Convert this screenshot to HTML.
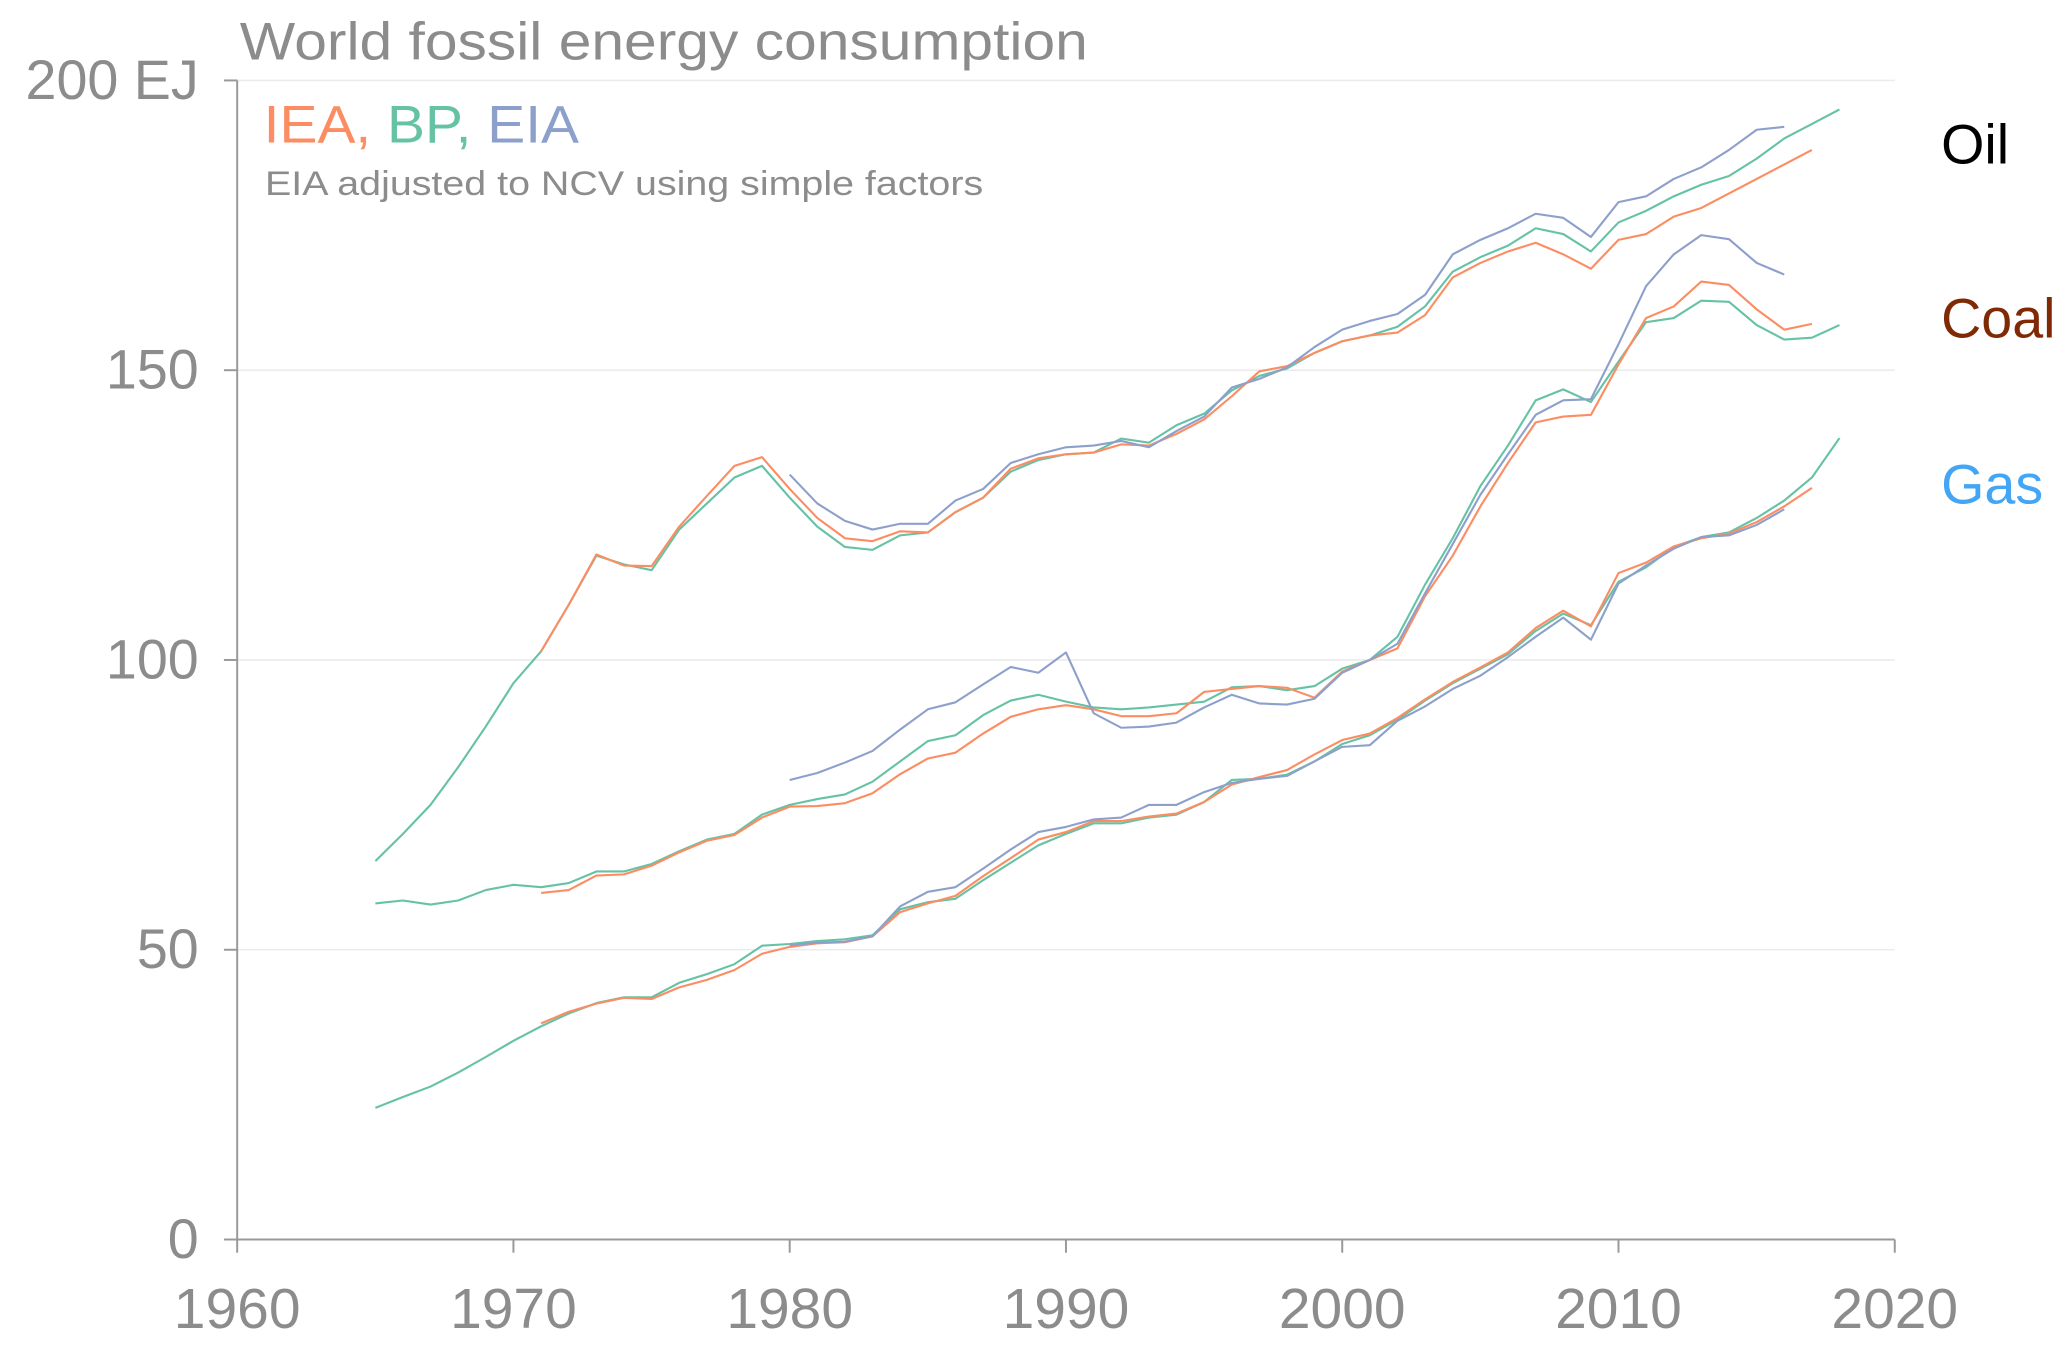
<!DOCTYPE html>
<html><head><meta charset="utf-8"><style>
html,body{margin:0;padding:0;background:#fff;}
svg{display:block;font-family:"Liberation Sans",sans-serif;}
</style></head><body>
<svg id="chart" width="2067" height="1345" viewBox="0 0 1560 1020" preserveAspectRatio="none" xmlns="http://www.w3.org/2000/svg">
<text x="181" y="45" font-size="40" fill="#8c8c8c" textLength="640" lengthAdjust="spacingAndGlyphs">World fossil energy consumption</text>
<text x="199" y="108" font-size="40" textLength="238" lengthAdjust="spacingAndGlyphs"><tspan fill="#fc8d62">IEA, </tspan><tspan fill="#66c2a5">BP, </tspan><tspan fill="#8da0cb">EIA</tspan></text>
<text x="200" y="148" font-size="26" fill="#8c8c8c" textLength="542" lengthAdjust="spacingAndGlyphs">EIA adjusted to NCV using simple factors</text>
<g id="grid"></g><g id="axes"></g><g id="lines"></g>
<text x="1465" y="124" font-size="42" fill="#000">Oil</text>
<text x="1465" y="256" font-size="42" fill="#7f2a04">Coal</text>
<text x="1465" y="382" font-size="42" fill="#42a5f5">Gas</text>
</svg>
<script>
const yTicks=[0,50,100,150,200];
const yTickLabels=["0","50","100","150","200 EJ"];
const xTicks=[1960,1970,1980,1990,2000,2010,2020];
const oilBP=[65.3,70,75,81.5,88.5,96,101.5,109.5,118,116.5,115.5,122.5,127,131.5,133.5,128,123,119.5,119,121.5,122,125.5,128,132.5,134.5,135.5,135.8,138.2,137.5,140.5,142.5,146.5,149,150.3,153,155,156,157.5,161,167,169.5,171.5,174.5,173.5,170.5,175.5,177.5,180,182,183.5,186.5,190,192.5,195];
const oilIEA=[101.5,109.5,118.2,116.3,116.2,123,128.3,133.5,135,129.5,124.5,121,120.5,122.2,122,125.5,128,133,134.8,135.5,135.8,137.2,137,139,141.5,145.5,149.8,150.7,153,155,156,156.5,159.5,166,168.5,170.5,172,170,167.5,172.5,173.5,176.5,178,180.5,183,185.5,188];
const oilEIA=[132,127,124,122.5,123.5,123.5,127.5,129.5,134,135.5,136.7,137,137.8,136.7,139.5,142,147,148.5,150.5,154,157,158.5,159.7,163,170,172.5,174.5,177,176.3,173,179,180,183,185,188,191.5,192];
const coalBP=[58,58.5,57.8,58.5,60.3,61.2,60.8,61.5,63.5,63.5,64.8,67,69,70,73.3,75,76,76.8,79,82.5,86,87,90.5,93,94,92.8,91.8,91.5,91.8,92.3,92.8,95.3,95.5,94.8,95.5,98.5,100,104,113,121,130,137,144.8,146.7,144.5,151.5,158.3,159,162,161.8,157.8,155.3,155.6,157.8];
const coalIEA=[59.8,60.3,62.8,63,64.5,66.8,68.8,69.8,72.8,74.7,74.8,75.3,77,80.3,83,84,87.3,90.2,91.5,92.2,91.5,90.3,90.3,90.8,94.5,95,95.5,95.2,93.5,98,100,102,111,118,126.5,134,141,142,142.3,151,159,161,165.3,164.7,160.5,157,158];
const coalEIA=[79.3,80.5,82.3,84.3,88,91.5,92.7,95.8,98.8,97.8,101.3,90.8,88.3,88.5,89.2,91.8,94,92.5,92.3,93.3,97.8,100,102.8,111.5,120,128.5,135.5,142.3,144.8,145,154.5,164.5,170,173.3,172.6,168.5,166.5];
const gasBP=[22.7,24.6,26.4,28.8,31.5,34.3,36.8,39,40.8,41.8,41.8,44.3,45.8,47.5,50.7,51,51.5,51.8,52.5,57,58.2,58.8,62,65,68,70,71.8,71.8,72.8,73.3,75.5,79.3,79.5,80.2,82.5,85.5,87,89.7,93,96,98.5,101,105,108,106,113.5,116,119.5,121.2,122,124.5,127.5,131.5,138.3];
const gasIEA=[37.3,39.3,40.7,41.7,41.5,43.5,44.8,46.5,49.3,50.5,51.1,51.3,52.3,56.5,58,59.3,62.7,65.8,69,70.3,72.2,72.2,73,73.5,75.5,78.5,79.8,81,83.7,86.2,87.3,90,93.2,96.2,98.7,101.3,105.5,108.5,105.8,115,116.8,119.6,121,121.8,123.8,126.5,129.7];
const gasEIA=[50.8,51.2,51.4,52.3,57.5,60,60.8,64,67.3,70.3,71.2,72.5,72.8,75,75,77.2,78.8,79.5,80,82.5,85,85.3,89.5,92,95,97.3,100.5,104,107.3,103.5,113.2,116.3,119.2,121.2,121.5,123.3,126];
const series=[
 ["oil-bp",oilBP,1965,"#66c2a5"],["oil-iea",oilIEA,1971,"#fc8d62"],["oil-eia",oilEIA,1980,"#8da0cb"],
 ["coal-bp",coalBP,1965,"#66c2a5"],["coal-iea",coalIEA,1971,"#fc8d62"],["coal-eia",coalEIA,1980,"#8da0cb"],
 ["gas-bp",gasBP,1965,"#66c2a5"],["gas-iea",gasIEA,1971,"#fc8d62"],["gas-eia",gasEIA,1980,"#8da0cb"]];
const NS="http://www.w3.org/2000/svg";
const X0=179,X1=1430,Y0=940,Y1=61;
function xs(yr){return X0+(yr-1960)/60*(X1-X0);}
function ys(v){return Y0-v/200*(Y0-Y1);}
function mk(t,a,p){const e=document.createElementNS(NS,t);for(const k in a)e.setAttribute(k,a[k]);p.appendChild(e);return e;}
const grid=document.getElementById('grid'),axes=document.getElementById('axes'),lines=document.getElementById('lines');
yTicks.forEach((v,i)=>{
 if(v>0){const g=mk('line',{x1:X0,x2:X1,y1:ys(v),y2:ys(v),stroke:'#ececec','stroke-width':1.2},grid);
 
 }
 const tk=mk('line',{x1:X0-10,x2:X0,y1:ys(v),y2:ys(v),stroke:'#999','stroke-width':1.5},axes);
 
 
 const t=mk('text',{x:150,y:ys(v)+14,'text-anchor':'end','font-size':42,fill:'#8c8c8c'},axes);
 t.textContent=yTickLabels[i];
 
 
});
xTicks.forEach(yr=>{
 const tk=mk('line',{x1:xs(yr),x2:xs(yr),y1:Y0,y2:Y0+10,stroke:'#999','stroke-width':1.5},axes);
 
 
 const t=mk('text',{x:xs(yr),y:1007,'text-anchor':'middle','font-size':43,fill:'#8c8c8c'},axes);
 t.textContent=String(yr);
 
 
});
const ya=mk('line',{x1:X0,x2:X0,y1:Y1,y2:Y0,stroke:'#999','stroke-width':1.5},axes);


const xa=mk('line',{x1:X0,x2:X1,y1:Y0,y2:Y0,stroke:'#999','stroke-width':1.5},axes);


series.forEach(s=>{
 const pts=s[1].map((v,i)=>xs(s[2]+i).toFixed(1)+','+ys(v).toFixed(1)).join(' ');
 const p=mk('polyline',{points:pts,fill:'none',stroke:s[3],'stroke-width':1.6,'stroke-linejoin':'round'},lines);
 
 
});
</script>
</body></html>
